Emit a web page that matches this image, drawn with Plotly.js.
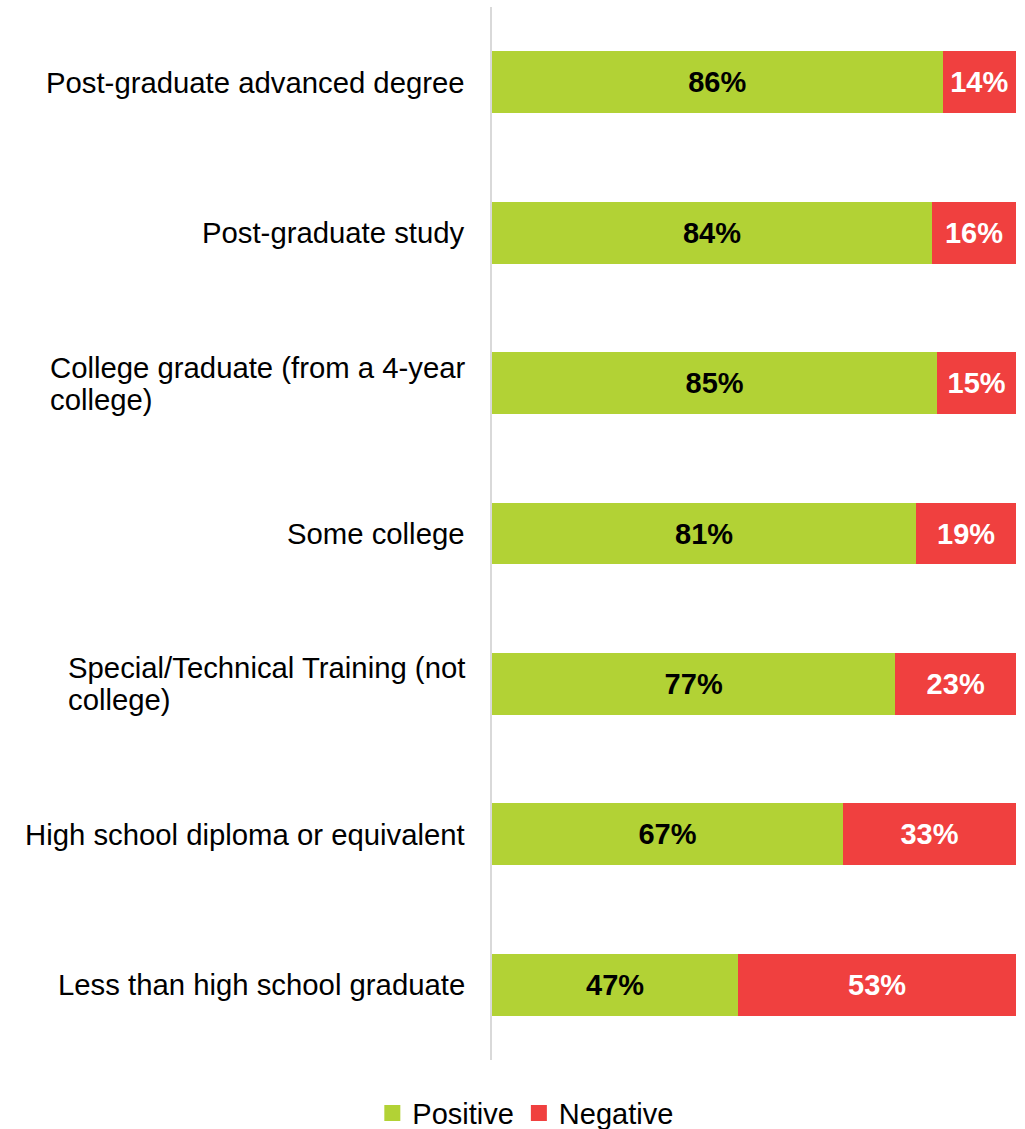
<!DOCTYPE html>
<html>
<head>
<meta charset="utf-8">
<script src="https://cdn.plot.ly/plotly-3.0.1.min.js"></script>
<style>html,body{margin:0;padding:0;background:#fff;}#chart{width:1025px;height:1129px;}</style>
</head>
<body>
<div id="chart"></div>
<script>
var categories = [
  "Post-graduate advanced degree",
  "Post-graduate study",
  "College graduate (from a 4-year<br>college)",
  "Some college",
  "Special/Technical Training (not<br>college)",
  "High school diploma or equivalent",
  "Less than high school graduate"
];
var positive = [86, 84, 85, 81, 77, 67, 47];
var negative = [14, 16, 15, 19, 23, 33, 53];
var seriesNames = ["Positive", "Negative"];
var seriesColors = ["#b2d235", "#f0403f"];

var FONT = "Liberation Sans, Arial, sans-serif";
var LABEL_SIZE = 29.3;

var traces = [
  {
    type: "bar", orientation: "h", name: seriesNames[0], showlegend: false,
    y: categories, x: positive,
    marker: {color: seriesColors[0]},
    texttemplate: "%{x}%", textposition: "inside", insidetextanchor: "middle",
    textfont: {family: FONT, size: 29, color: "#000", weight: "bold"},
    hoverinfo: "skip"
  },
  {
    type: "bar", orientation: "h", name: seriesNames[1], showlegend: false,
    y: categories, x: negative,
    marker: {color: seriesColors[1]},
    texttemplate: "%{x}%", textposition: "inside", insidetextanchor: "middle",
    textfont: {family: FONT, size: 29, color: "#fff", weight: "bold"},
    hoverinfo: "skip"
  }
];
// legend entries with larger square swatches
seriesNames.forEach(function (n, i) {
  traces.push({
    type: "scatter", mode: "markers", name: n,
    x: [null], y: [null],
    marker: {symbol: "square", size: 19, color: seriesColors[i]},
    showlegend: true, hoverinfo: "skip"
  });
});

var annotations = categories.map(function (c) {
  return {
    xref: "paper", yref: "y", x: 0, y: c, xshift: -25,
    xanchor: "right", yanchor: "middle", align: "left",
    text: c, showarrow: false,
    font: {family: FONT, size: LABEL_SIZE, color: "#000"}
  };
});

var layout = {
  width: 1025, height: 1129,
  margin: {l: 492, r: 9, t: 7, b: 69},
  barmode: "stack", bargap: 0.588,
  paper_bgcolor: "#fff", plot_bgcolor: "#fff",
  font: {family: FONT, size: 29, color: "#000"},
  xaxis: {range: [0, 100], visible: false, fixedrange: true},
  yaxis: {
    type: "category", autorange: "reversed",
    showticklabels: false, ticks: "",
    showline: true, linecolor: "#d9d9d9", linewidth: 2,
    showgrid: false, zeroline: false
  },
  showlegend: true,
  legend: {
    orientation: "h", traceorder: "normal", xref: "container", yref: "container",
    x: 0.513, xanchor: "center", y: 0.014, yanchor: "middle",
    font: {family: FONT, size: 29, color: "#000"},
    itemwidth: 30, tracegroupgap: 0
  },
  annotations: annotations
};

Plotly.newPlot("chart", traces, layout, {displayModeBar: false, staticPlot: true}).then(function (gd) {
  // tighten line spacing of the two-line category labels
  try {
    var texts = gd.querySelectorAll(".annotation-text");
    texts.forEach(function (t) {
      var lines = t.querySelectorAll("tspan.line");
      if (lines.length === 2) {
        lines[1].setAttribute("dy", "1.07em");
        var shift = (1.3 - 1.07) * LABEL_SIZE / 2;
        var cur = t.getAttribute("transform") || "";
        t.setAttribute("transform", cur + " translate(0," + shift + ")");
      }
    });
  } catch (e) {}
});
</script>
</body>
</html>
